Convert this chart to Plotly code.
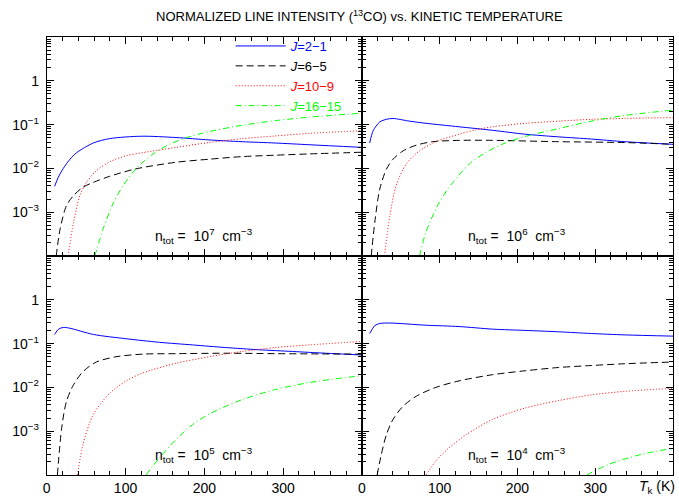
import plotly.graph_objects as go

# ---------------- data (T_k in K, normalized intensity) ----------------
density_exp = ["7", "6", "5", "4"]
line_names = ["J=2\u22121", "J=6\u22125", "J=10\u22129", "J=16\u221215"]

# n = 1e7
t_n7_j21 = [10, 14.7, 21, 29.5, 38, 59, 80, 120, 164, 206, 248, 290, 333, 400]
i_n7_j21 = [0.0039, 0.0063, 0.010, 0.0162, 0.0229, 0.038, 0.0479, 0.0543, 0.0507, 0.0447, 0.0407, 0.038, 0.0347, 0.0302]
t_n7_j65 = [12, 17, 25, 34, 46, 59, 80, 112, 164, 206, 248, 290, 333, 400]
i_n7_j65 = [1e-4, 4.17e-4, 1.41e-3, 2.40e-3, 3.72e-3, 4.79e-3, 6.61e-3, 9.66e-3, 1.38e-2, 1.62e-2, 1.86e-2, 2.0e-2, 2.14e-2, 2.34e-2]
t_n7_j109 = [27, 34, 42, 50.5, 63, 80, 101, 122, 164, 206, 248, 290, 333, 400]
i_n7_j109 = [1e-4, 5.9e-4, 2.4e-3, 4.8e-3, 8.9e-3, 1.41e-2, 1.95e-2, 2.29e-2, 3.02e-2, 3.89e-2, 4.79e-2, 5.5e-2, 6.31e-2, 7.24e-2]
t_n7_j1615 = [61, 71.6, 84, 97, 114, 135, 156, 177, 206, 248, 290, 333, 400]
i_n7_j1615 = [1e-4, 4.17e-4, 1.55e-3, 4.07e-3, 1.02e-2, 2.14e-2, 3.55e-2, 5.01e-2, 6.92e-2, 9.66e-2, 0.123, 0.148, 0.182]

# n = 1e6
t_n6_j21 = [10, 14.5, 23, 31.5, 40, 61, 82.5, 125, 168, 210, 253, 295, 338, 400]
i_n6_j21 = [0.038, 0.0724, 0.115, 0.132, 0.138, 0.120, 0.107, 0.0891, 0.0741, 0.0603, 0.0525, 0.0468, 0.0407, 0.0355]
t_n6_j65 = [12, 16.6, 23, 31.5, 40, 53, 70, 91, 125, 168, 253, 338, 400]
i_n6_j65 = [1e-4, 5.9e-4, 3.39e-3, 9.55e-3, 1.62e-2, 2.51e-2, 3.39e-2, 4.07e-2, 4.37e-2, 4.37e-2, 4.07e-2, 3.89e-2, 3.55e-2]
t_n6_j109 = [29, 36, 44, 57, 74, 95, 125, 146, 168, 210, 253, 295, 338, 400]
i_n6_j109 = [1e-4, 8.3e-4, 4.07e-3, 1.26e-2, 2.51e-2, 4.07e-2, 6.03e-2, 7.59e-2, 8.91e-2, 0.107, 0.120, 0.132, 0.138, 0.145]
t_n6_j1615 = [74, 82.5, 99.6, 117, 138, 159, 180, 210, 253, 295, 338, 400]
i_n6_j1615 = [1e-4, 3.55e-4, 1.70e-3, 4.79e-3, 1.26e-2, 2.29e-2, 3.55e-2, 5.37e-2, 8.13e-2, 0.120, 0.162, 0.214]

# n = 1e5
t_n5_j21 = [10, 15, 21, 29.5, 59, 101, 143, 185, 227, 269, 312, 354, 400]
i_n5_j21 = [0.162, 0.214, 0.234, 0.224, 0.162, 0.129, 0.107, 0.0933, 0.0813, 0.0724, 0.0661, 0.0603, 0.055]
t_n5_j65 = [13.5, 19, 25, 34, 46, 63, 88, 122, 164, 227, 290, 400]
i_n5_j65 = [1e-4, 1.2e-3, 4.79e-3, 1.15e-2, 2.29e-2, 3.8e-2, 5.01e-2, 5.75e-2, 5.89e-2, 6.03e-2, 5.89e-2, 5.75e-2]
t_n5_j109 = [39, 46, 59, 80, 101, 122, 164, 206, 248, 290, 333, 400]
i_n5_j109 = [1e-4, 5.0e-4, 2.4e-3, 7.41e-3, 1.41e-2, 2.14e-2, 3.55e-2, 5.01e-2, 6.61e-2, 8.13e-2, 9.33e-2, 0.112]
t_n5_j1615 = [126, 143, 164, 185, 206, 248, 290, 333, 400]
i_n5_j1615 = [1e-4, 2.45e-4, 6.46e-4, 1.41e-3, 2.45e-3, 5.25e-3, 8.91e-3, 1.29e-2, 1.86e-2]

# n = 1e4
t_n4_j21 = [10, 16.6, 23, 36, 82.5, 125, 168, 210, 253, 295, 338, 400]
i_n4_j21 = [0.17, 0.257, 0.288, 0.295, 0.263, 0.245, 0.214, 0.20, 0.186, 0.17, 0.158, 0.148]
t_n4_j65 = [19.6, 25, 31.5, 40, 53, 70, 95, 125, 168, 210, 253, 295, 338, 400]
i_n4_j65 = [1e-4, 2.95e-4, 8.3e-4, 1.86e-3, 3.72e-3, 6.31e-3, 1.0e-2, 1.41e-2, 1.95e-2, 2.4e-2, 2.85e-2, 3.16e-2, 3.47e-2, 3.8e-2]
t_n4_j109 = [82.5, 95, 112, 134, 168, 210, 253, 295, 338, 400]
i_n4_j109 = [1e-4, 2.09e-4, 4.17e-4, 8.3e-4, 1.86e-3, 3.39e-3, 5.01e-3, 6.76e-3, 8.13e-3, 9.55e-3]
t_n4_j1615 = [289, 317, 359, 400]
i_n4_j1615 = [1e-4, 1.74e-4, 2.95e-4, 4.07e-4]

x_ticks = [0, 100, 200, 300]
x_ticktext = ["0", "100", "200", "300"]
y_ticks = [1e-3, 1e-2, 1e-1, 1]
y_ticktext = ["10<sup>\u22123</sup>", "10<sup>\u22122</sup>", "10<sup>\u22121</sup>", "1"]

panels = [
    [(t_n7_j21, i_n7_j21), (t_n7_j65, i_n7_j65), (t_n7_j109, i_n7_j109), (t_n7_j1615, i_n7_j1615)],
    [(t_n6_j21, i_n6_j21), (t_n6_j65, i_n6_j65), (t_n6_j109, i_n6_j109), (t_n6_j1615, i_n6_j1615)],
    [(t_n5_j21, i_n5_j21), (t_n5_j65, i_n5_j65), (t_n5_j109, i_n5_j109), (t_n5_j1615, i_n5_j1615)],
    [(t_n4_j21, i_n4_j21), (t_n4_j65, i_n4_j65), (t_n4_j109, i_n4_j109), (t_n4_j1615, i_n4_j1615)],
]

# ---------------- styling ----------------
W, H = 679, 497
colors = ["#0000ff", "#000000", "#ff0000", "#00ff00"]
dashes = ["solid", "7px,4px", "1px,2px", "6px,3px,1px,3px"]
FONT = "Liberation Sans"
NB = "\u00a0"

x_dom = [[43 / W, 360 / W], [360 / W, 673 / W]]
y_dom = [[1 - 256 / H, 1 - 37 / H], [1 - 475 / H, 1 - 256 / H]]

minor_y = [k * 10.0 ** d for d in range(-4, 1) for k in range(2, 10)]

fig = go.Figure()
for p, series in enumerate(panels):
    ax = "" if p == 0 else str(p + 1)
    for s, (tx, iy) in enumerate(series):
        name = "<span style='color:%s'><i>J</i>%s</span>" % (colors[s], line_names[s][1:])
        fig.add_trace(go.Scatter(
            x=tx, y=iy, mode="lines", name=name,
            line=dict(color=colors[s], width=1, dash=dashes[s], shape="spline", smoothing=0.8),
            xaxis="x" + ax, yaxis="y" + ax, showlegend=(p == 0),
        ))

layout = dict(
    width=W, height=H, margin=dict(l=0, r=0, t=0, b=0),
    paper_bgcolor="white", plot_bgcolor="white",
    font=dict(family=FONT, size=14, color="black"),
    showlegend=True,
    legend=dict(x=228 / W, y=1 - 31 / H, xanchor="left", yanchor="top",
                bgcolor="rgba(0,0,0,0)", borderwidth=0, font=dict(size=13),
                tracegroupgap=0, itemwidth=50),
)
for p in range(4):
    ax = "" if p == 0 else str(p + 1)
    col, row = p % 2, p // 2
    layout["xaxis" + ax] = dict(
        domain=x_dom[col], anchor="y" + ax, range=[0, 400],
        showline=True, linecolor="black", linewidth=1, mirror="allticks",
        ticks="inside", ticklen=7, tickcolor="black", tickwidth=1,
        tickvals=x_ticks, ticktext=x_ticktext, showticklabels=(row == 1),
        showgrid=False, zeroline=False,
        minor=dict(ticks="inside", ticklen=4, dtick=20, tickcolor="black", showgrid=False),
        tickfont=dict(size=14),
    )
    layout["yaxis" + ax] = dict(
        domain=y_dom[row], anchor="x" + ax, type="log", range=[-4, 1],
        showline=True, linecolor="black", linewidth=1, mirror="allticks",
        ticks="inside", ticklen=7, tickcolor="black", tickwidth=1,
        tickvals=y_ticks, ticktext=y_ticktext, showticklabels=(col == 0),
        showgrid=False, zeroline=False,
        minor=dict(ticks="inside", ticklen=4, tickvals=minor_y, tickcolor="black", showgrid=False),
        tickfont=dict(size=14), ticklabelstandoff=4,
    )
fig.update_layout(**layout)

annotations = [dict(
    text="NORMALIZED LINE INTENSITY (<sup>13</sup>CO) vs. KINETIC TEMPERATURE",
    xref="paper", yref="paper", x=358 / W, y=1 - 16 / H, xanchor="center", yanchor="middle",
    showarrow=False, font=dict(size=13),
)]
for p in range(4):
    ax = "" if p == 0 else str(p + 1)
    annotations.append(dict(
        text="n<sub>tot</sub>" + NB + "=" + NB + NB + "10<sup>" + density_exp[p] + "</sup>"
             + NB + NB + "cm<sup>\u22123</sup>",
        xref="x" + ax, yref="y" + ax, x=200, y=-3.55, xanchor="center", yanchor="middle",
        showarrow=False, font=dict(size=14),
    ))
annotations.append(dict(
    text="<i>T</i><sub>k</sub>" + NB + "(K)", xref="paper", yref="paper", x=677 / W, y=1 - 487 / H,
    xanchor="right", yanchor="middle", showarrow=False, font=dict(size=14),
))
fig.update_layout(annotations=annotations)

fig.write_html("out.html")
